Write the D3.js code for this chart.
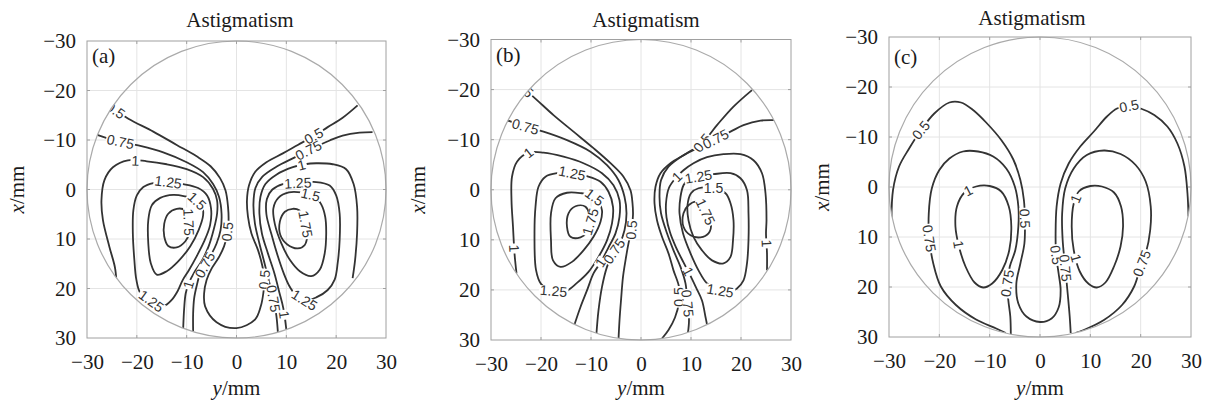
<!DOCTYPE html>
<html>
<head>
<meta charset="utf-8">
<script src="https://cdn.jsdelivr.net/npm/d3@7"></script>
<style>
  body { margin: 0; background: #fff; }
  svg { display: block; }
</style>
</head>
<body>
<svg id="chart" width="1211" height="404"></svg>
<script>
// tick values (mm), same on both axes
const ticks = [-30, -20, -10, 0, 10, 20, 30];

// contour lines, every point is [y mm, x mm]

// ---- panel (a)
const a_05 = [[-24.7,-16.3],[-21.7,-14.3],[-16.7,-11.7],[-12,-9],[-8,-6.7],[-5.2,-4.7],[-3.3,-2.3],[-2.2,0.2],[-1.7,3.5],[-1.6,6.5],[-1.9,9.2],[-2.5,11.5],[-3.6,13.8],[-5,16],[-6,18.3],[-6.5,21],[-6.3,23.6],[-4,26.8],[0,28],[3.7,26.3],[4.9,23.5],[5.4,20.8],[5.6,18.2],[5.2,15.5],[4.3,12.2],[3,8.9],[2.3,5.5],[2.1,2.2],[2.5,-0.8],[3.7,-3.5],[6,-5.5],[9.3,-7.3],[12.3,-9],[15.5,-10.8],[18.3,-12.6],[21.3,-14.5],[24.3,-17]];
const a_L075 = [[-28.1,-11.1],[-24,-9.8],[-19.3,-8.8],[-14.7,-7.5],[-10,-5.5],[-6.7,-3.5],[-4.7,-1.1],[-3.5,1.5],[-3,4.9],[-3.2,8.2],[-4,10.9],[-5,13],[-6.2,15],[-7.3,17],[-8,19.5],[-8.5,22],[-8.7,25],[-8.7,28.7]];
const a_R075 = [[27.3,-11.6],[24.7,-11.5],[21.3,-10.9],[18.7,-9.9],[15,-8.2],[11.7,-6.5],[8,-4.6],[5.2,-2.6],[3.8,-0.3],[3.4,2.9],[3.7,6.9],[4.6,10.9],[5.6,14.8],[6.5,18.5],[7.4,22],[8,25.5],[8.3,28.8]];
const a_L1 = [[-24.1,18.4],[-24.4,15.7],[-25.5,11.6],[-26.8,6.2],[-27.1,2.2],[-26.5,-1.9],[-24.8,-4.5],[-21.8,-5.9],[-18,-5.7],[-14,-5.1],[-10,-4.1],[-6.7,-2.5],[-4.7,-0.1],[-3.9,2.2],[-3.9,4.9],[-4.6,8.2],[-5.6,11.5],[-7,14.5],[-8.5,16.8],[-9.6,19],[-10.2,21],[-10.5,24],[-10.7,28.1]];
const a_R1 = [[23.3,17.9],[23.8,14.2],[24.2,8.8],[24.2,3.5],[23.5,-1.1],[22,-4.1],[19.3,-5.1],[16,-5.3],[13.7,-5.1],[11.3,-4.5],[8,-3],[5.8,-1.1],[4.8,1.5],[4.6,4.9],[5.1,8.9],[6.3,12.9],[7.6,16.9],[8.6,20.8],[9.4,24],[10,28.3]];
const a_L125 = [[-13.7,-1.5],[-10.7,-1.1],[-7.7,-0.3],[-5.9,1.2],[-5.1,3.9],[-5.3,7.2],[-6.5,10.5],[-8,13.5],[-9.5,16.2],[-10.8,18.3],[-11.8,20.5],[-13,22.3],[-14.6,23.5],[-17,22.6],[-19.3,20.9],[-20.1,18.2],[-20.5,14.2],[-20.8,8.9],[-20.7,4.2],[-20,1.2],[-18.7,-0.5],[-16.7,-1.3]];
const a_R125 = [[12.3,-1.3],[16,-1.5],[18.7,-0.8],[20,1.2],[20.7,4.9],[20.7,10.2],[20.3,14.9],[19.7,18.2],[18.3,20.3],[16,21.8],[13.7,22.4],[11.8,21.2],[10.6,19.5],[9.5,17],[8.3,13.5],[7,9],[6,5],[6.1,1.9],[7.2,0],[9.3,-1.1]];
const a_L15 = [[-10.3,1.4],[-12.7,1.1],[-15.3,1.7],[-17,3.2],[-17.7,6.2],[-17.7,10.9],[-17.2,14.9],[-16,17.2],[-14,16.5],[-11.7,14.5],[-9.3,11.5],[-7.6,8.2],[-6.7,5.2],[-6.9,3.3],[-8.3,2]];
const a_R15 = [[13,0.6],[15.5,1.2],[17,3],[17.8,5.5],[18,8.9],[17.7,12.9],[16.7,16.2],[15,17.5],[12.7,16.5],[10.7,14.2],[9,10.9],[7.7,7],[7.4,3.8],[8.4,1.7],[10.5,0.6]];
const a_L175 = [[-10.3,4.2],[-12,3.9],[-13.7,4.9],[-14.5,6.9],[-14.5,9.5],[-13.7,11.4],[-12,11.7],[-10.3,10.5],[-9.5,8.9],[-9.6,6.5]];
const a_R175 = [[11.3,3.9],[9.7,4.5],[8.7,6.5],[8.8,9.2],[10.2,11.1],[12.3,11.9],[13.7,11.2],[14.2,8.9],[13.6,5.6],[12.6,4.2]];
// label: [level, y, x]
const a_labels = [[0.5,-24.2,-16.1],[0.75,-23.3,-9.6],[1,-20.3,-5.8],[1.25,-13.7,-1.5],[1.5,-8.3,2.7],[1.75,-9.6,6.6],[1.25,-17,22.4],[1,-9.7,19.2],[0.75,-6.4,15.2],[0.5,-1.9,8.5],
  [0.5,15.5,-10.8],[0.75,14.5,-7.8],[1,13,-5.3],[1.25,12.3,-1.3],[1.5,14.7,1.7],[1.75,13.9,7],[1.25,13.7,22.2],[1,9.5,25.3],[0.5,5.6,18.2],[0.75,7.6,22]];

// ---- panel (b)
const b_L05 = [[-23.5,-20.3],[-20.8,-17.9],[-17.5,-14.9],[-13.5,-11.6],[-9.5,-8.3],[-6.1,-5.3],[-3.5,-2.6],[-2.1,0.1],[-1.7,2.7],[-1.6,5],[-1.9,8.1],[-2.5,10.7],[-3.1,14.1],[-3.6,17.4],[-4,22.1],[-4.3,26.1],[-4.5,29.9]];
const b_R05 = [[4.2,29.7],[5.5,28],[6.8,25.5],[7.6,22.5],[7.6,19.4],[6.5,16.1],[5.5,12.7],[4.2,9.4],[3.2,6.1],[2.7,2.7],[2.9,-0.6],[3.9,-3.3],[5.9,-5.3],[9.2,-7.3],[12.2,-9.3],[15.2,-12.9],[18.5,-16.6],[22.2,-19.9]];
const b_L075 = [[-26.8,-13.9],[-23.5,-12.7],[-19.5,-11.6],[-14.8,-9.9],[-10.1,-7.6],[-6.8,-4.9],[-4.5,-1.9],[-3.3,1.4],[-2.9,4.7],[-3.3,8.1],[-4.2,10.6],[-5.6,12.6],[-6.8,15.4],[-7.8,19.4],[-8.5,24.1],[-8.9,28.6]];
const b_R075 = [[26.9,-13.9],[23.9,-13.8],[20.5,-12.9],[17.9,-11.6],[14.9,-10.1],[11.9,-8.6],[8.5,-6.9],[5.5,-4.6],[4,-1.9],[3.7,1.4],[4,4.7],[5.2,8.7],[6.5,12.1],[7.9,15.4],[8.9,18.7],[9.3,22.7],[9.6,26],[9.4,28.5]];
const b_L1 = [[-24.9,16.7],[-25.3,12.7],[-25.6,7.4],[-25.9,2.1],[-25.8,-2.6],[-24.8,-5.6],[-22.5,-7.4],[-19.5,-7.4],[-15.5,-6.6],[-11.5,-5.3],[-7.8,-3.3],[-5.5,-0.9],[-4.3,2.1],[-4.3,5.4],[-5.1,8.7],[-6.5,11.5],[-8,14.4],[-9.5,16.7],[-10.8,20.1],[-12.1,23.4],[-13.3,26.9]];
const b_R1 = [[25.2,16.1],[25.2,12.7],[25,8.7],[25.1,6.1],[24.9,0.7],[24.2,-3.3],[22.5,-5.9],[19.9,-7.1],[16.5,-7.1],[13.2,-6.5],[10.5,-5.3],[8.5,-3.9],[6.9,-2.3],[5.6,-0.4],[5,2.7],[5.1,5.5],[5.8,8.5],[7,11.5],[8.5,14.5],[9.8,17],[11,19.5],[12.2,22.1],[12.9,25.4],[13.2,26.9]];
const b_L125 = [[-13.8,-3.3],[-10.8,-2.7],[-8.1,-1.6],[-6.5,0.4],[-5.6,3.4],[-5.8,6.7],[-6.8,10.1],[-8.5,13.4],[-10.5,16.4],[-12.8,18.6],[-15.3,20.4],[-17.8,20.2],[-20,18.8],[-21,16],[-21.3,8.7],[-21.1,3.4],[-20.5,-0.6],[-19.1,-2.6],[-16.8,-3.3]];
const b_R125 = [[11.5,-2.6],[14.5,-3.1],[17.9,-3.3],[19.9,-2.3],[21.2,0.1],[21.5,4.7],[21.5,10.1],[21.2,14.7],[20.5,18.1],[19.2,19.7],[17.3,20.4],[15.5,20.1],[13.2,18.7],[11.5,16.1],[9.9,12.7],[8.4,8.7],[7.7,4.7],[7.9,1.4],[8.5,-0.9],[9.5,-2.1]];
const b_L15 = [[-11.8,0.7],[-14.8,0.6],[-17.1,1.7],[-18,4.7],[-18,10.1],[-17.6,14.1],[-16.1,15.4],[-13.8,14.4],[-11.5,12.1],[-9.5,9.4],[-8.1,6.4],[-7.8,4.1],[-8.6,2],[-9.8,1.1]];
const b_R15 = [[16.9,0.7],[17.9,2.7],[18.5,6.1],[18.4,10.1],[17.9,13.4],[16.5,14.7],[14.2,14.1],[12.2,12.1],[10.5,9.4],[9.5,6.1],[9.3,3.1],[10,0.7],[11.5,-0.3],[14.5,-0.3]];
const b_L175 = [[-11.1,3.4],[-13.1,3.3],[-14.5,4.7],[-14.8,7.4],[-14.1,9.4],[-12.1,9.5],[-10.7,8.4],[-10.1,6.4]];
const b_R175 = [[11.2,2.4],[9.5,3.1],[8.5,4.7],[8.5,7.4],[9.9,9.1],[11.9,9.5],[13.5,8.7],[14,6.7],[12.9,4.4]];
const b_labels = [[0.5,-23.2,-20.4],[0.75,-23.1,-12.6],[1,-22.5,-7.4],[1.25,-13.8,-3.3],[1.5,-9.8,2.1],[1.75,-10.1,6.4],[1.25,-17.5,20.3],[1,-25.3,11.7],[1,-8.3,14.4],[0.75,-5.6,12.1],[0.5,-2,8],
  [0.5,12.2,-9.4],[0.75,15,-10],[1,7.2,-2.6],[1.25,11.5,-2.6],[1.5,14.5,-0.3],[1.75,12.9,4.4],[1.25,15.8,20.3],[1,24.9,10.7],[1,9.6,16.2],[0.5,7.6,21.4],[0.75,9.3,22.7]];

// ---- panel (c)
const c_05 = [[-29.5,6.3],[-29.2,0.6],[-28,-4.1],[-26,-7.7],[-23.7,-11.3],[-21,-14.7],[-18,-16.9],[-15.7,-16.9],[-13.3,-15.4],[-10.7,-12.9],[-7.7,-9.4],[-5.3,-5.5],[-3.9,-1.4],[-3.2,2.6],[-3,6.6],[-3.1,11.3],[-3.9,15.3],[-4.7,19.3],[-4.3,23.3],[-2.7,25.9],[0,27],[2.3,26.3],[3.7,24.1],[4.1,20.6],[3.7,17.3],[3.2,13.6],[3.1,9.3],[3.3,3.9],[4.1,-0.7],[5.7,-4.7],[8,-8.1],[10.7,-11.1],[13.3,-14.1],[15.3,-15.7],[17.7,-16.2],[20,-15.7],[22.7,-14.4],[25.3,-12.1],[27.3,-8.7],[28.7,-4.1],[29.3,1.3],[29.5,5.9]];
const c_L075 = [[-6.8,29.2],[-8.7,28.3],[-12.7,26.5],[-16.7,23.6],[-19.7,19.9],[-21.2,15.3],[-22,10.3],[-22.1,5.3],[-21.5,0.3],[-20,-3.4],[-18,-5.7],[-15.3,-7.1],[-12.3,-7.1],[-9.3,-6.1],[-6.7,-3.7],[-5,-0.1],[-4.3,3.9],[-4.3,7.9],[-4.9,12.6],[-6,15.9],[-6.5,19.3],[-6.3,22.6],[-5.9,25.9],[-5.8,29.5]];
const c_R075 = [[6.1,29.2],[5.9,25.9],[5.5,21.3],[5,15.9],[4.5,10.6],[4.4,5.3],[5,0.3],[6.7,-3.7],[9.3,-6.4],[12.7,-7.3],[16,-6.6],[19,-4.4],[21,-1.1],[22,3.9],[21.9,8.6],[21,13.3],[20,15.9],[18.7,19.9],[16.3,23.6],[12.7,26.6],[8.7,28.6],[7,29.2]];
const c_L1 = [[-10,-0.2],[-7.7,0.9],[-6.2,3.9],[-5.7,7.9],[-6.1,12.6],[-7.5,16.6],[-9.5,19.3],[-11.3,20.1],[-13,19.1],[-14.8,15.9],[-16.1,11.9],[-16.8,7.9],[-16.5,3.9],[-15,1.1],[-12.7,-0.1]];
const c_R1 = [[10,-0.2],[7.7,0.9],[6.7,3.3],[6.3,7.9],[6.7,12.6],[7.9,16.9],[9.7,19.4],[11.3,20.1],[13,19.1],[14.7,15.9],[16,11.9],[16.5,7.9],[16.1,3.9],[14.7,1.1],[12.3,-0.1]];
const c_labels = [[0.5,-23.7,-11.4],[0.5,-3,6.3],[0.75,-22,10.3],[0.75,-6.4,19.3],[1,-14,1.2],[1,-16.7,11.6],
  [0.5,17.7,-16.2],[0.5,3.2,13.6],[0.75,5,16.2],[1,7,14.3],[1,7.2,2.4],[0.75,20.3,15.3]];

// ---- layout of the three panels
const panels = [
  { tag: "(a)", left: 87, right: 386, top: 41, bottom: 338, titleX: 240, titleY: 27, tagY: 63,
    lines: [[0.5, a_05], [0.75, a_L075], [0.75, a_R075], [1, a_L1], [1, a_R1], [1.25, a_L125, true], [1.25, a_R125, true],
            [1.5, a_L15, true], [1.5, a_R15, true], [1.75, a_L175, true], [1.75, a_R175, true]],
    labels: a_labels, axisTitleX: 17 },
  { tag: "(b)", left: 491, right: 791, top: 39.5, bottom: 340, titleX: 646, titleY: 27, tagY: 62,
    lines: [[0.5, b_L05], [0.5, b_R05], [0.75, b_L075], [0.75, b_R075], [1, b_L1], [1, b_R1], [1.25, b_L125, true], [1.25, b_R125, true],
            [1.5, b_L15, true], [1.5, b_R15, true], [1.75, b_L175, true], [1.75, b_R175, true]],
    labels: b_labels, axisTitleX: 418 },
  { tag: "(c)", left: 889, right: 1191, top: 37, bottom: 337, titleX: 1032, titleY: 25, tagY: 64,
    lines: [[0.5, c_05], [0.75, c_L075], [0.75, c_R075], [1, c_L1, true], [1, c_R1, true]],
    labels: c_labels, axisTitleX: 822 }
];

const svg = d3.select("#chart");
const defs = svg.append("defs");
const serif = "'Liberation Serif','Times New Roman',serif";
const sans = "'Liberation Sans',Arial,Helvetica,sans-serif";
const lineColor = "#333";

panels.forEach((p, i) => {
  const xs = d3.scaleLinear().domain([-30, 30]).range([p.left, p.right]);
  const ys = d3.scaleLinear().domain([-30, 30]).range([p.top, p.bottom]);
  const g = svg.append("g");

  // grid
  const grid = g.append("g").attr("stroke", "#e4e4e4").attr("stroke-width", 1);
  grid.selectAll(".gv").data(ticks.slice(1, -1)).join("line")
    .attr("x1", d => xs(d)).attr("x2", d => xs(d))
    .attr("y1", p.top).attr("y2", p.bottom);
  grid.selectAll(".gh").data(ticks.slice(1, -1)).join("line")
    .attr("y1", d => ys(d)).attr("y2", d => ys(d))
    .attr("x1", p.left).attr("x2", p.right);

  // lens outline as clip
  const clipId = "lens" + i;
  defs.append("clipPath").attr("id", clipId)
    .append("ellipse")
      .attr("cx", xs(0)).attr("cy", ys(0))
      .attr("rx", xs(30) - xs(0)).attr("ry", ys(30) - ys(0));

  const openLine = d3.line().x(d => xs(d[0])).y(d => ys(d[1])).curve(d3.curveCatmullRom.alpha(0.5));
  const loopLine = d3.line().x(d => xs(d[0])).y(d => ys(d[1])).curve(d3.curveCatmullRomClosed.alpha(0.5));

  const contours = g.append("g").attr("clip-path", `url(#${clipId})`);
  contours.selectAll("path").data(p.lines).join("path")
    .attr("d", d => (d[2] ? loopLine : openLine)(d[1]))
    .attr("fill", "none")
    .attr("stroke", lineColor)
    .attr("stroke-width", 1.8)
    .attr("stroke-linejoin", "round");

  // contour labels, rotated along the nearest line piece
  const placed = p.labels.map(([lev, y, x]) => {
    const px = xs(y), py = ys(x);
    let best = null;
    p.lines.filter(l => l[0] === lev).forEach(l => {
      const pts = l[1].map(d => [xs(d[0]), ys(d[1])]);
      if (l[2]) pts.push(pts[0]);
      for (let k = 0; k < pts.length - 1; k++) {
        const [x1, y1] = pts[k], [x2, y2] = pts[k + 1];
        const dx = x2 - x1, dy = y2 - y1, len2 = dx * dx + dy * dy;
        const t = ((px - x1) * dx + (py - y1) * dy) / len2;
        const tc = Math.max(0, Math.min(1, t));
        const dist = Math.hypot(x1 + tc * dx - px, y1 + tc * dy - py);
        if (!best || dist < best.dist) {
          best = { dist, x: x1 + t * dx, y: y1 + t * dy, ang: Math.atan2(dy, dx) * 180 / Math.PI };
        }
      }
    });
    let a = best.ang;
    if (a > 90) a -= 180;
    if (a < -90) a += 180;
    return { text: String(lev), x: best.x, y: best.y, ang: a };
  });

  const labelG = g.append("g").attr("clip-path", `url(#${clipId})`);
  const lab = labelG.selectAll("g").data(placed).join("g")
    .attr("transform", d => `translate(${d.x},${d.y}) rotate(${d.ang})`);
  lab.append("rect").attr("fill", "#fff");
  lab.append("text")
    .attr("text-anchor", "middle")
    .attr("dy", "0.35em")
    .attr("font-family", sans)
    .attr("font-size", 14)
    .attr("fill", "#333")
    .text(d => d.text);
  lab.each(function () {
    const t = d3.select(this).select("text").node().getBBox();
    d3.select(this).select("rect")
      .attr("x", t.x - 1).attr("y", -5)
      .attr("width", t.width + 2).attr("height", 10);
  });

  // lens circle
  g.append("ellipse")
    .attr("cx", xs(0)).attr("cy", ys(0))
    .attr("rx", xs(30) - xs(0)).attr("ry", ys(30) - ys(0))
    .attr("fill", "none").attr("stroke", "#aaa").attr("stroke-width", 1.2);

  // box and small inner ticks
  g.append("rect")
    .attr("x", p.left).attr("y", p.top)
    .attr("width", p.right - p.left).attr("height", p.bottom - p.top)
    .attr("fill", "none").attr("stroke", "#a0a0a0").attr("stroke-width", 1);
  const tk = g.append("g").attr("stroke", "#a0a0a0");
  ticks.slice(1, -1).forEach(v => {
    tk.append("line").attr("x1", xs(v)).attr("x2", xs(v)).attr("y1", p.bottom).attr("y2", p.bottom - 3);
    tk.append("line").attr("x1", xs(v)).attr("x2", xs(v)).attr("y1", p.top).attr("y2", p.top + 3);
    tk.append("line").attr("y1", ys(v)).attr("y2", ys(v)).attr("x1", p.left).attr("x2", p.left + 3);
    tk.append("line").attr("y1", ys(v)).attr("y2", ys(v)).attr("x1", p.right).attr("x2", p.right - 3);
  });

  // axes
  const fmt = d3.format("d");
  const ax = g.append("g").attr("transform", `translate(0,${p.bottom})`)
    .call(d3.axisBottom(xs).tickValues(ticks).tickFormat(fmt).tickSize(0).tickPadding(16));
  const ay = g.append("g").attr("transform", `translate(${p.left},0)`)
    .call(d3.axisLeft(ys).tickValues(ticks).tickFormat(fmt).tickSize(0).tickPadding(11));
  [ax, ay].forEach(a => {
    a.select(".domain").remove();
    a.selectAll("text").attr("font-family", serif).attr("font-size", 21).attr("fill", "#1a1a1a");
  });

  // titles
  g.append("text")
    .attr("x", p.titleX).attr("y", p.titleY)
    .attr("text-anchor", "middle")
    .attr("font-family", serif).attr("font-size", 21).attr("fill", "#1a1a1a")
    .text("Astigmatism");
  g.append("text")
    .attr("x", p.left + 5).attr("y", p.tagY)
    .attr("font-family", serif).attr("font-size", 21).attr("fill", "#1a1a1a")
    .text(p.tag);

  const xt = g.append("text")
    .attr("x", (p.left + p.right) / 2).attr("y", 395)
    .attr("text-anchor", "middle")
    .attr("font-family", serif).attr("font-size", 21).attr("fill", "#1a1a1a");
  xt.append("tspan").attr("font-style", "italic").text("y");
  xt.append("tspan").text("/mm");

  const yt = g.append("text")
    .attr("transform", `translate(${p.axisTitleX + 7},${(p.top + p.bottom) / 2}) rotate(-90)`)
    .attr("text-anchor", "middle")
    .attr("font-family", serif).attr("font-size", 21).attr("fill", "#1a1a1a");
  yt.append("tspan").attr("font-style", "italic").text("x");
  yt.append("tspan").text("/mm");
});
</script>
</body>
</html>
